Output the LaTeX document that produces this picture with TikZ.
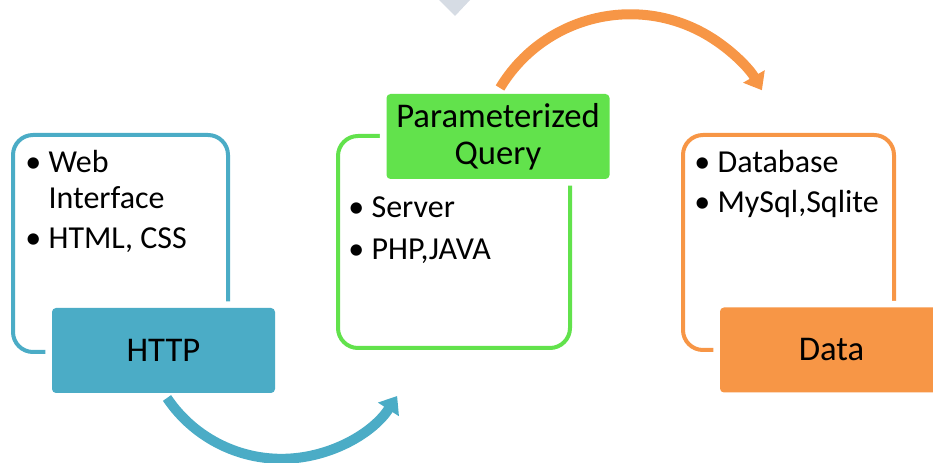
\documentclass[tikz,border=0pt]{standalone}
\usepackage{fontspec}
\setmainfont{Carlito}
\usetikzlibrary{arrows.meta}
\definecolor{httpblue}{HTML}{4BACC6}
\definecolor{querygreen}{HTML}{62E24C}
\definecolor{dataorange}{HTML}{F79646}
\definecolor{topgray}{HTML}{D6DCE4}
\newcommand{\blt}[1]{\makebox[17.5pt][l]{\textbullet}#1}
\newcommand{\ind}{\hspace*{17.5pt}}

\begin{document}
\begin{tikzpicture}[x=0.75pt,y=0.75pt,
		frame/.style={line width=3pt,rounded corners=15pt},
		labelbox/.style={rounded corners=3pt,minimum width=167.25pt,minimum height=63.75pt,inner sep=0pt,align=center,font=\fontsize{26}{28}\selectfont,preaction={draw=white,line width=10pt}},
		bullets/.style={anchor=base west,align=left,inner sep=0pt,font=\fontsize{24}{27}\selectfont},
		bendarrow/.style={line width=7.5pt,-{Triangle[length=12pt,width=18pt]}}]
		\useasboundingbox (0,0) rectangle (933,463);
		\clip (0,0) rectangle (933,463);
		\fill[topgray] (438,464) -- (471,464) -- (455,447) -- cycle;
		\draw[frame,httpblue] (13,111) rectangle (228,328);
		\draw[frame,querygreen] (338,115) rectangle (570,327);
		\draw[frame,dataorange] (683,113) rectangle (894,328);
		\node[labelbox,fill=httpblue] (http) at (163.5,112.5) {HTTP};
		\node[labelbox,fill=querygreen] (query) at (498,326.5) {Parameterized\\Query};
		\node[labelbox,fill=dataorange] (data) at (831.5,113) {Data};
		\node[bullets] (weblist) at (25,214) {\blt{Web}\\\ind Interface\\[3pt]\blt{HTML, CSS}};
		\node[bullets] (serverlist) at (348,203) {\blt{Server}\\[4.5pt]\blt{PHP,JAVA}};
		\node[bullets] (dblist) at (694,250) {\blt{Database}\\[3pt]\blt{MySql,Sqlite}};
		\coordinate (httpout) at (167,65);
		\coordinate (queryout) at (500,375);
		\draw[bendarrow,httpblue] (httpout) arc[start angle=214,end angle=327,radius=138];
		\draw[bendarrow,dataorange] (queryout) arc[start angle=149,end angle=30,radius=152];
	\end{tikzpicture}
\end{document}
